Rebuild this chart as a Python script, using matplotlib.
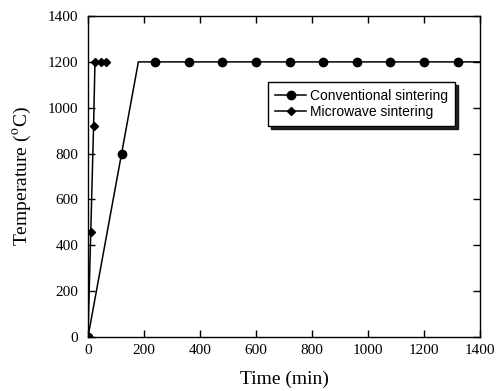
import matplotlib
matplotlib.use("Agg")
import matplotlib.pyplot as plt

# conventional sintering: line vertices, markers only on sampled points
conv_time = [0, 120, 180, 240, 360, 480, 600, 720, 840, 960, 1080, 1200, 1320, 1400]
conv_temp = [0, 800, 1200, 1200, 1200, 1200, 1200, 1200, 1200, 1200, 1200, 1200, 1200, 1200]
conv_marks = [0, 1, 3, 4, 5, 6, 7, 8, 9, 10, 11, 12]

# microwave sintering
mw_time = [0, 10, 20, 25, 45, 65]
mw_temp = [0, 460, 920, 1200, 1200, 1200]

xticks = [0, 200, 400, 600, 800, 1000, 1200, 1400]
yticks = [0, 200, 400, 600, 800, 1000, 1200, 1400]


def main():
    plt.rcParams['font.family'] = 'Liberation Serif'
    plt.rcParams['mathtext.fontset'] = 'stix'

    fig = plt.figure(figsize=(5.01, 3.91), dpi=100)
    ax = fig.add_axes([0.1756, 0.138, 0.7824, 0.821])

    ax.plot(conv_time, conv_temp, color='black', lw=1.1, marker='o', ms=6,
            markevery=conv_marks, label='Conventional sintering')
    ax.plot(mw_time, mw_temp, color='black', lw=1.1, marker='D', ms=4,
            label='Microwave sintering')

    ax.set_xlim(0, 1400)
    ax.set_ylim(0, 1400)
    ax.set_xticks(xticks)
    ax.set_yticks(yticks)
    ax.tick_params(direction='in', top=True, right=True, length=5,
                   labelsize=11, width=1)
    ax.tick_params(axis='y', pad=7)
    ax.tick_params(axis='x', pad=5)
    for s in ax.spines.values():
        s.set_linewidth(1)
    ax.set_xlabel('Time (min)', fontsize=14, labelpad=10)
    ax.set_ylabel('Temperature ($^{\\mathrm{o}}$C)', fontsize=14)
    ax.yaxis.set_label_coords(-0.14, 0.5)

    leg = ax.legend(loc='upper left', bbox_to_anchor=(0.46, 0.795),
                    prop={'family': 'Liberation Sans', 'size': 10},
                    frameon=True, fancybox=False,
                    shadow={'color': 'black', 'alpha': 0.85},
                    handlelength=2.2, handletextpad=0.3, labelspacing=0.15,
                    borderpad=0.5, borderaxespad=0)
    leg.get_frame().set_edgecolor('black')
    leg.get_frame().set_linewidth(1)

    fig.savefig('out.png', dpi=100)


if __name__ == "__main__":
    main()
